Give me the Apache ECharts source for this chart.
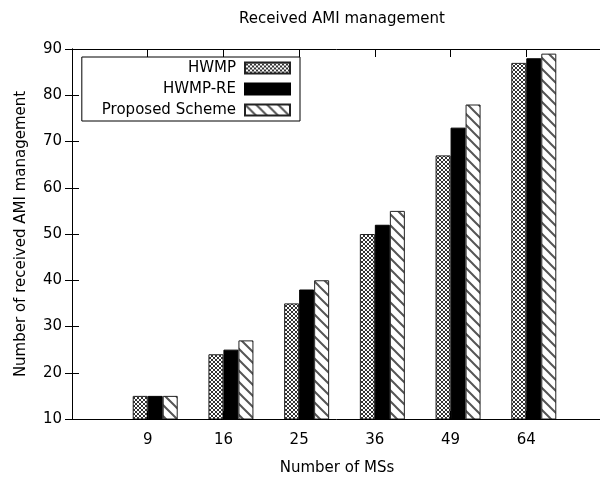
<!DOCTYPE html>
<html>
<head>
<meta charset="utf-8">
<script src="https://cdn.jsdelivr.net/npm/echarts@6/dist/echarts.min.js"></script>
<style>
  html, body { margin: 0; padding: 0; background: #fff; }
  #chart { width: 600px; height: 482px; }
</style>
</head>
<body>
<div id="chart"></div>
<script>
// Number of MSs (x categories) and received AMI management counts per scheme
const categories = ['9', '16', '25', '36', '49', '64'];
const hwmp = [15, 24, 35, 50, 67, 87];
const hwmpRe = [15, 25, 38, 52, 73, 88];
const proposed = [15, 27, 40, 55, 78, 89];
const seriesNames = ['HWMP', 'HWMP-RE', 'Proposed Scheme'];

const FONT = 'DejaVu Sans';
const FS = 15;

// Fine diagonal cross-hatch fill
function crossHatchTile() {
  const c = document.createElement('canvas');
  c.width = 4; c.height = 4;
  const g = c.getContext('2d');
  g.fillStyle = '#fff';
  g.fillRect(0, 0, 4, 4);
  g.fillStyle = '#333';
  for (let i = 0; i < 4; i++) {
    g.fillRect(i, i, 1, 1);
    g.fillRect(3 - i, i, 1, 1);
  }
  return c;
}

// Backslash-style diagonal line fill
function diagonalTile() {
  const n = 11;
  const c = document.createElement('canvas');
  c.width = n; c.height = n;
  const g = c.getContext('2d');
  g.fillStyle = '#fff';
  g.fillRect(0, 0, n, n);
  g.strokeStyle = '#555';
  g.lineWidth = 2;
  g.beginPath();
  g.moveTo(-2, -2); g.lineTo(n + 2, n + 2);
  g.moveTo(-2, n - 2); g.lineTo(2, n + 2);
  g.moveTo(n - 2, -2); g.lineTo(n + 2, 2);
  g.stroke();
  return c;
}

const toPoints = arr => arr.map((v, i) => [i + 1, v]);

const chart = echarts.init(document.getElementById('chart'), null, { renderer: 'canvas' });

const barBase = {
  type: 'bar',
  barWidth: 15,
  barGap: '0%',
  xAxisIndex: 0,
  yAxisIndex: 0
};

chart.setOption({
  animation: false,
  backgroundColor: '#fff',
  textStyle: { fontFamily: FONT, color: '#000' },
  title: {
    text: 'Received AMI management',
    left: 337,
    textAlign: 'center',
    top: 7,
    textStyle: { fontFamily: FONT, fontSize: FS, fontWeight: 'normal', color: '#000' }
  },
  legend: {
    data: seriesNames.map(n => ({ name: n, icon: 'rect' })),
    orient: 'vertical',
    align: 'right',
    right: 300,
    top: 57,
    itemWidth: 45,
    itemHeight: 11,
    itemGap: 5,
    padding: [3, 9, 3, 20],
    backgroundColor: '#fff',
    borderColor: '#000',
    borderWidth: 1,
    borderRadius: 0,
    selectedMode: false,
    z: 10,
    textStyle: { fontFamily: FONT, fontSize: FS, color: '#000', lineHeight: 16, padding: [0, 4, 0, 0] }
  },
  grid: {
    left: 72, width: 530, top: 49, bottom: 63,
    containLabel: false,
    outerBoundsMode: 'none'
  },
  xAxis: [
    {
      type: 'value',
      position: 'bottom',
      min: 0, max: 7, interval: 1,
      name: 'Number of MSs',
      nameLocation: 'middle',
      nameGap: 42,
      nameTextStyle: { fontFamily: FONT, fontSize: FS, color: '#000' },
      splitLine: { show: false },
      axisLine: { show: true, lineStyle: { color: '#000', width: 1 } },
      axisTick: { show: true, inside: true, length: 8, lineStyle: { color: '#000' } },
      axisLabel: {
        fontFamily: FONT, fontSize: FS, color: '#000', margin: 14,
        formatter: v => categories[v - 1] || ''
      },
      z: 5
    },
    {
      type: 'value',
      position: 'top',
      min: 0, max: 7, interval: 1,
      splitLine: { show: false },
      axisLine: { show: true, lineStyle: { color: '#000', width: 1 } },
      axisTick: { show: true, inside: true, length: 8, lineStyle: { color: '#000' } },
      axisLabel: { show: false },
      z: 5
    }
  ],
  yAxis: [
    {
      type: 'value',
      position: 'left',
      min: 10, max: 90, interval: 10,
      name: 'Number of received AMI management',
      nameLocation: 'middle',
      nameGap: 43,
      nameTextStyle: { fontFamily: FONT, fontSize: FS, color: '#000' },
      splitLine: { show: false },
      axisLine: { show: true, lineStyle: { color: '#000', width: 1 } },
      axisTick: { show: true, inside: true, length: 7, lineStyle: { color: '#000' } },
      axisLabel: { fontFamily: FONT, fontSize: FS, color: '#000', margin: 10 },
      z: 5
    },
    {
      type: 'value',
      position: 'right',
      min: 10, max: 90, interval: 10,
      splitLine: { show: false },
      axisLine: { show: true, lineStyle: { color: '#000', width: 1 } },
      axisTick: { show: true, inside: true, length: 7, lineStyle: { color: '#000' } },
      axisLabel: { show: false },
      z: 5
    }
  ],
  series: [
    // empty leading slot so each cluster starts at its tick
    Object.assign({}, barBase, { name: 'slot', data: [] }),
    Object.assign({}, barBase, {
      name: seriesNames[0],
      data: toPoints(hwmp),
      itemStyle: {
        color: { image: crossHatchTile(), repeat: 'repeat' },
        borderColor: '#222', borderWidth: 1
      }
    }),
    Object.assign({}, barBase, {
      name: seriesNames[1],
      data: toPoints(hwmpRe),
      itemStyle: { color: '#000', borderColor: '#000', borderWidth: 1 }
    }),
    Object.assign({}, barBase, {
      name: seriesNames[2],
      data: toPoints(proposed),
      itemStyle: {
        color: { image: diagonalTile(), repeat: 'repeat' },
        borderColor: '#222', borderWidth: 1
      }
    })
  ]
});
</script>
</body>
</html>
